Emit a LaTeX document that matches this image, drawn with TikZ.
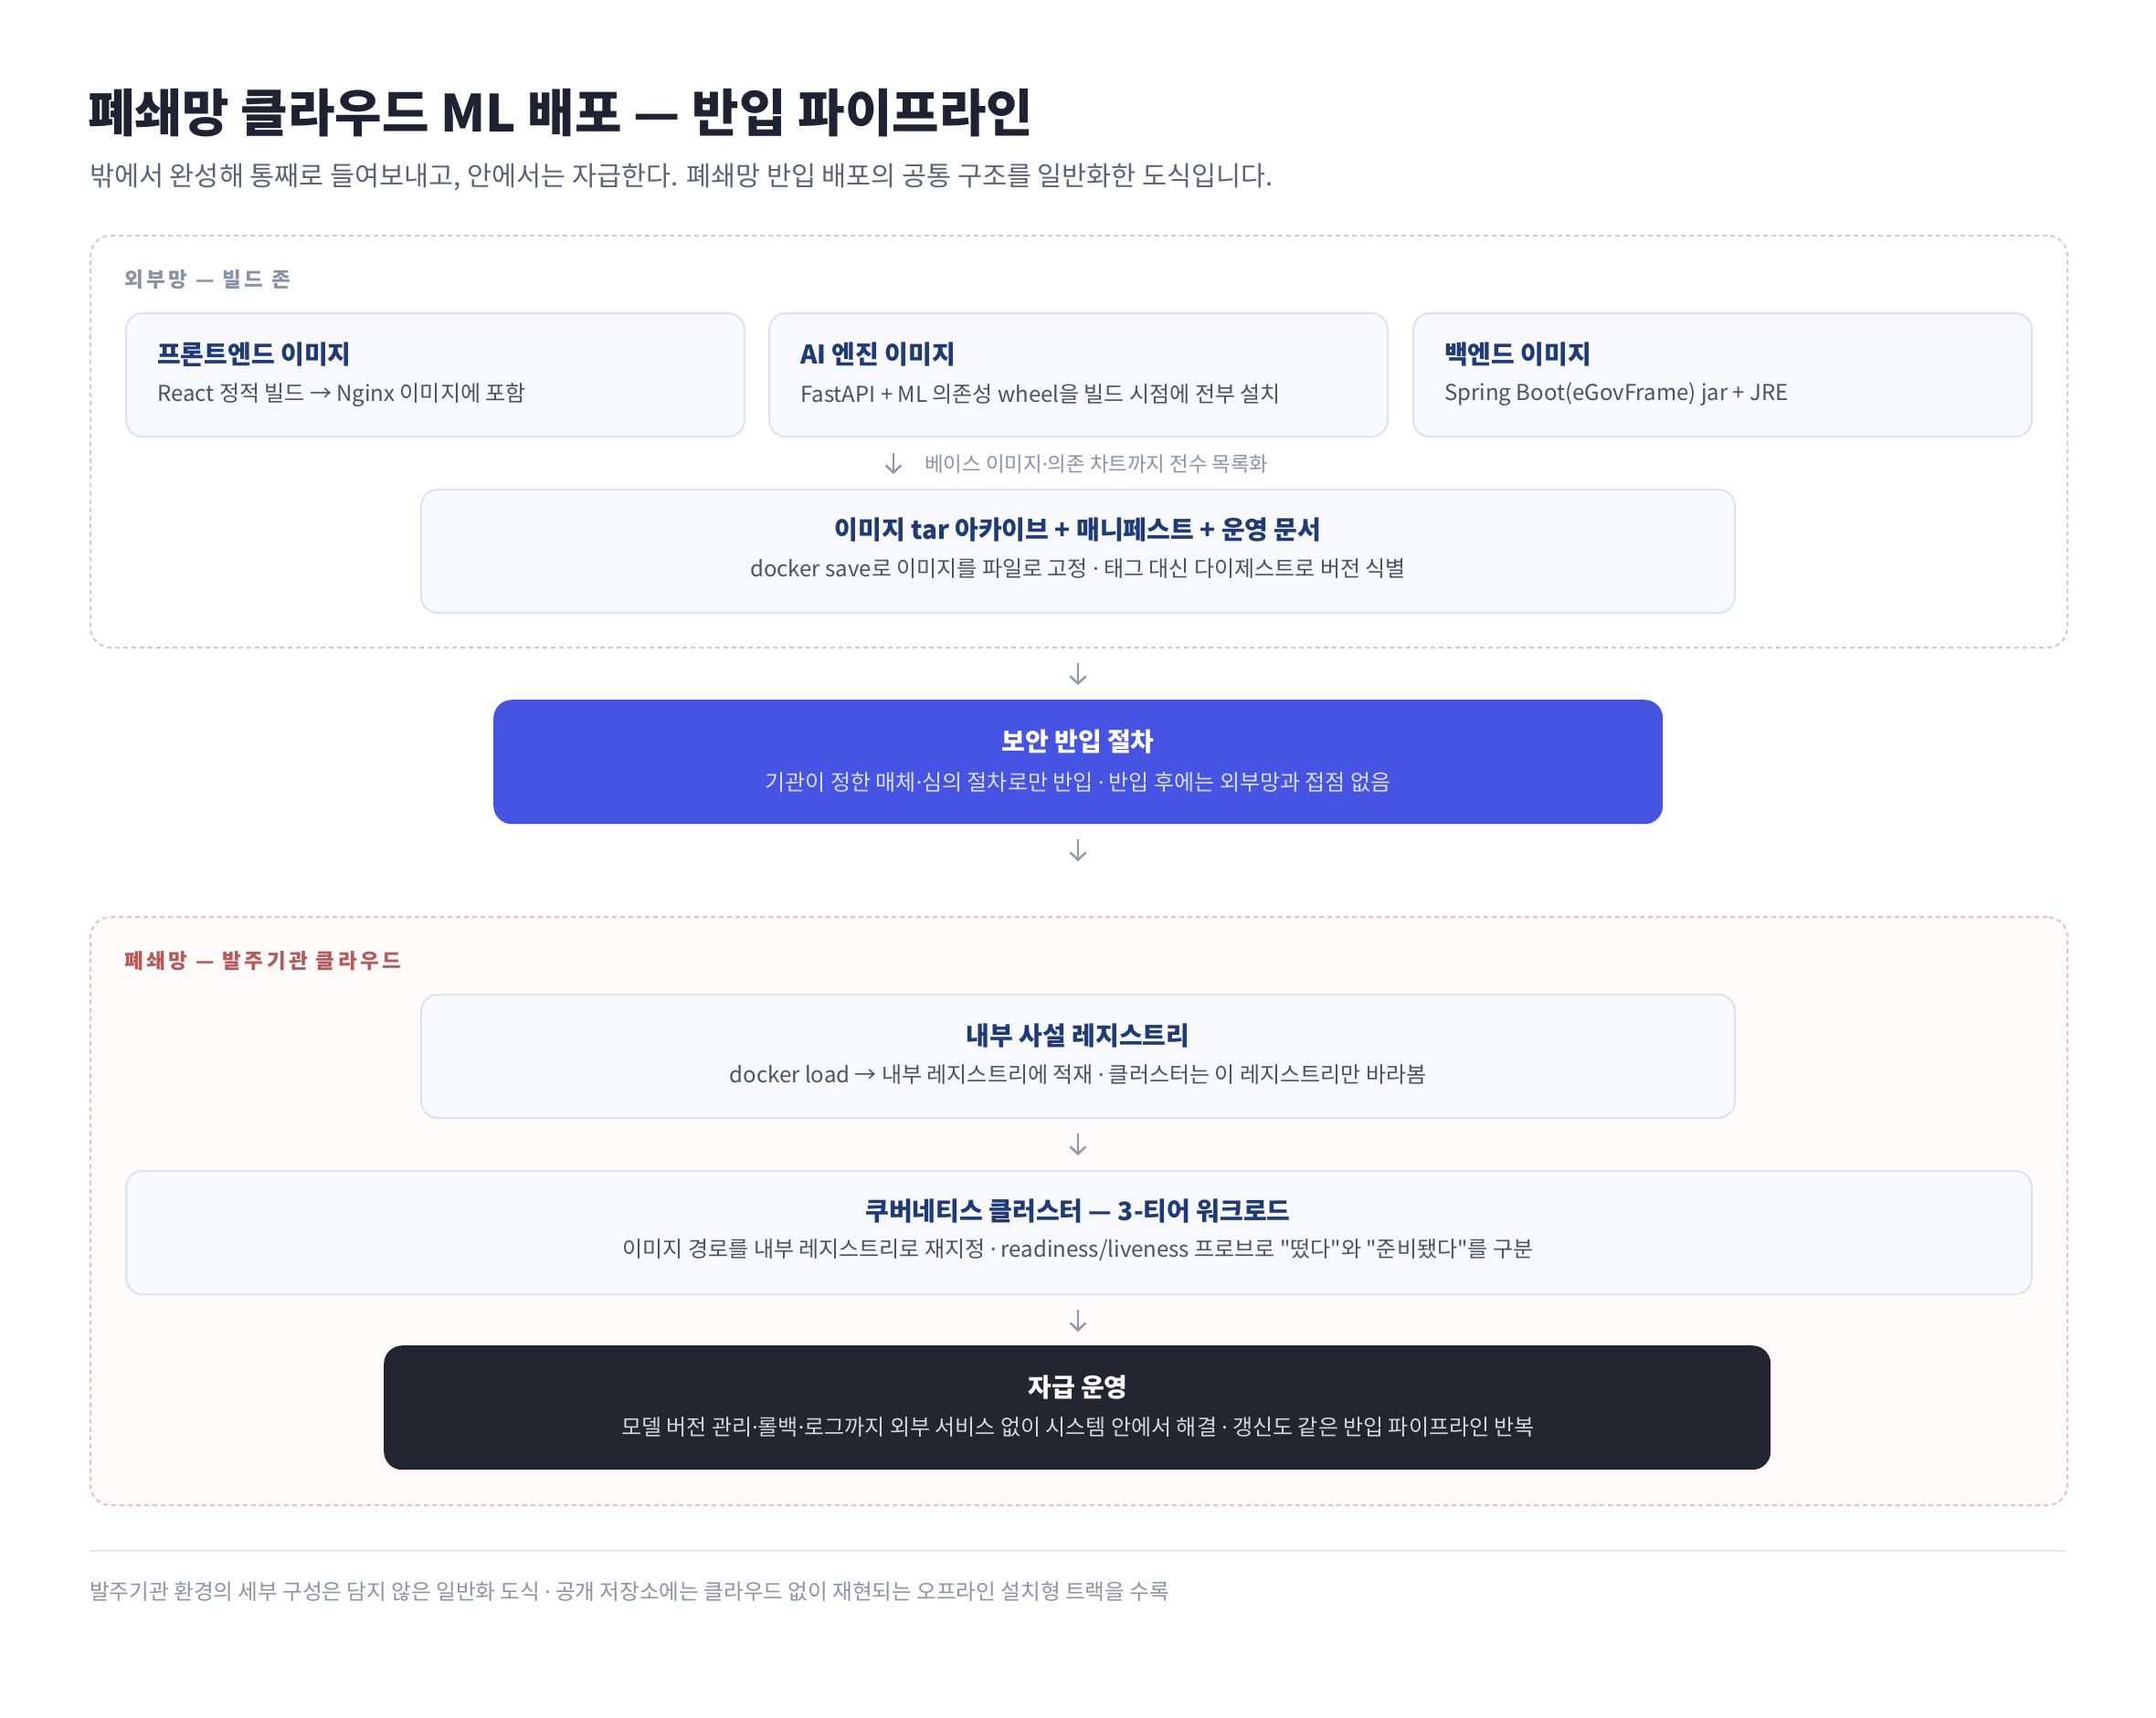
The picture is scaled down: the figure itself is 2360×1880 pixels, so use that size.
\documentclass[tikz,border=0pt]{standalone}
\usepackage{fontspec}
\setmainfont{Noto Sans CJK KR}[Ligatures=TeXOff]
\newfontfamily\krsp{Noto Sans CJK KR}[Ligatures=TeXOff,LetterSpace=16]
\newfontfamily\latdot{Noto Sans}
\newcommand{\md}{{\latdot ·}}
\usetikzlibrary{arrows.meta}
\definecolor{titlec}{HTML}{1E2233}
\definecolor{subc}{HTML}{5B6477}
\definecolor{navy}{HTML}{1E3A78}
\definecolor{cardsub}{HTML}{4B5263}
\definecolor{zlab}{HTML}{8A93A6}
\definecolor{zlabred}{HTML}{B55A5A}
\definecolor{zline}{HTML}{C8CEDB}
\definecolor{zlinered}{HTML}{E6C0C0}
\definecolor{zfillred}{HTML}{FFFAFA}
\definecolor{cardfill}{HTML}{F7F9FD}
\definecolor{cardline}{HTML}{DDE3EE}
\definecolor{bluebox}{HTML}{4654E4}
\definecolor{bluesub}{HTML}{DCE0FF}
\definecolor{darkbox}{HTML}{232630}
\definecolor{darksub}{HTML}{D4D7DF}
\definecolor{arrc}{HTML}{8E97A8}
\definecolor{sepc}{HTML}{E5E9EF}
\definecolor{footc}{HTML}{8C93A3}
\begin{document}
\begin{tikzpicture}[x=1pt,y=-1pt,
  zonebox/.style={draw=zline, line width=2pt, dash pattern=on 5pt off 4pt, rounded corners=22pt, fill=white, anchor=north west, inner sep=0pt},
  zoneboxred/.style={zonebox, draw=zlinered, fill=zfillred},
  card/.style={draw=cardline, line width=2pt, fill=cardfill, rounded corners=18pt, anchor=north west, inner sep=0pt},
  bluecard/.style={fill=bluebox, rounded corners=20pt, anchor=north west, inner sep=0pt},
  darkcard/.style={fill=darkbox, rounded corners=20pt, anchor=north west, inner sep=0pt},
  ttl/.style={inner sep=0pt, text=navy, font=\fontsize{28}{32}\selectfont\bfseries},
  sub/.style={inner sep=0pt, text=cardsub, font=\fontsize{24}{28}\selectfont},
  zlabel/.style={inner sep=0pt, anchor=west, font=\krsp\fontsize{22.5}{26}\selectfont\bfseries},
  arr/.style={draw=arrc, line width=2.4pt, -{Straight Barb[length=8pt,width=17pt]}},
]
\useasboundingbox (0,0) rectangle (2360,1880);
\fill[white] (0,0) rectangle (2360,1880);

% title
\node[inner sep=0pt, anchor=west, text=titlec, font=\fontsize{56}{60}\selectfont\bfseries] (title) at (96,124) {폐쇄망 클라우드 ML 배포 — 반입 파이프라인};
\node[inner sep=0pt, anchor=west, text=subc, font=\fontsize{29.4}{34}\selectfont] (subtitle) at (98,194) {밖에서 완성해 통째로 들여보내고, 안에서는 자급한다. 폐쇄망 반입 배포의 공통 구조를 일반화한 도식입니다.};

% zone 1
\node[zonebox, minimum width=2164pt, minimum height=451pt] (zone1) at (98,257) {};
\node[zlabel, text=zlab] (zone1lab) at (136,306) {외부망 — 빌드 존};

\node[card, minimum width=677pt, minimum height=135pt] (fe) at (137,342) {};
\node[card, minimum width=677pt, minimum height=135pt] (ai) at (841,342) {};
\node[card, minimum width=677pt, minimum height=135pt] (be) at (1546,342) {};
\node[ttl, anchor=west] (fet) at (172,388) {프론트엔드 이미지};
\node[sub, anchor=west] (fes) at (172,432) {React 정적 빌드 → Nginx 이미지에 포함};
\node[ttl, anchor=west] (ait) at (876,388) {AI 엔진 이미지};
\node[sub, anchor=west] (ais) at (876,432) {FastAPI + ML 의존성 wheel을 빌드 시점에 전부 설치};
\node[ttl, anchor=west] (bet) at (1581,388) {백엔드 이미지};
\node[sub, anchor=west] (bes) at (1581,432) {Spring Boot(eGovFrame) jar + JRE};

\coordinate (la1) at (978,496);
\coordinate (la2) at (978,519);
\draw[arr] (la1) -- (la2);
\node[inner sep=0pt, anchor=west, text=zlab, font=\fontsize{22.4}{26}\selectfont] (lablist) at (1012,508) {베이스 이미지\md 의존 차트까지 전수 목록화};

\node[card, minimum width=1438pt, minimum height=135pt] (tar) at (460,535) {};
\node[ttl] (tart) at (1180,580) {이미지 tar 아카이브 + 매니페스트 + 운영 문서};
\node[sub] (tars) at (1180,623) {docker save로 이미지를 파일로 고정 \md{} 태그 대신 다이제스트로 버전 식별};

% arrow zone1 -> blue
\coordinate (a1) at (1180,726);
\coordinate (a2) at (1180,750);
\draw[arr] (a1) -- (a2);

% blue box
\node[bluecard, minimum width=1280pt, minimum height=136pt] (blue) at (540,766) {};
\node[ttl, text=white] (bluet) at (1180,812) {보안 반입 절차};
\node[sub, text=bluesub] (blues) at (1180,856) {기관이 정한 매체\md 심의 절차로만 반입 \md{} 반입 후에는 외부망과 접점 없음};

\coordinate (b1) at (1180,919);
\coordinate (b2) at (1180,943);
\draw[arr] (b1) -- (b2);

% zone 2
\node[zoneboxred, minimum width=2164pt, minimum height=644pt] (zone2) at (98,1003) {};
\node[zlabel, text=zlabred] (zone2lab) at (136,1052) {폐쇄망 — 발주기관 클라우드};

\node[card, minimum width=1438pt, minimum height=135pt] (reg) at (460,1088) {};
\node[ttl] (regt) at (1180,1134) {내부 사설 레지스트리};
\node[sub] (regs) at (1180,1177) {docker load → 내부 레지스트리에 적재 \md{} 클러스터는 이 레지스트리만 바라봄};

\coordinate (c1) at (1180,1241);
\coordinate (c2) at (1180,1265);
\draw[arr] (c1) -- (c2);

\node[card, minimum width=2086pt, minimum height=135pt] (k8s) at (137,1281) {};
\node[ttl] (k8st) at (1180,1326) {쿠버네티스 클러스터 — 3-티어 워크로드};
\node[sub] (k8ss) at (1180,1369) {이미지 경로를 내부 레지스트리로 재지정 \md{} readiness/liveness 프로브로 "떴다"와 "준비됐다"를 구분};

\coordinate (d1) at (1180,1434);
\coordinate (d2) at (1180,1458);
\draw[arr] (d1) -- (d2);

\node[darkcard, minimum width=1518pt, minimum height=136pt] (dark) at (420,1473) {};
\node[ttl, text=white] (darkt) at (1180,1519) {자급 운영};
\node[sub, text=darksub] (darks) at (1180,1562) {모델 버전 관리\md 롤백\md 로그까지 외부 서비스 없이 시스템 안에서 해결 \md{} 갱신도 같은 반입 파이프라인 반복};

% footer
\coordinate (s1) at (98,1698);
\coordinate (s2) at (2262,1698);
\draw[sepc, line width=2pt] (s1) -- (s2);
\node[inner sep=0pt, anchor=west, text=footc, font=\fontsize{23.6}{27}\selectfont] (foot) at (98,1743) {발주기관 환경의 세부 구성은 담지 않은 일반화 도식 \md{} 공개 저장소에는 클라우드 없이 재현되는 오프라인 설치형 트랙을 수록};
\end{tikzpicture}
\end{document}
